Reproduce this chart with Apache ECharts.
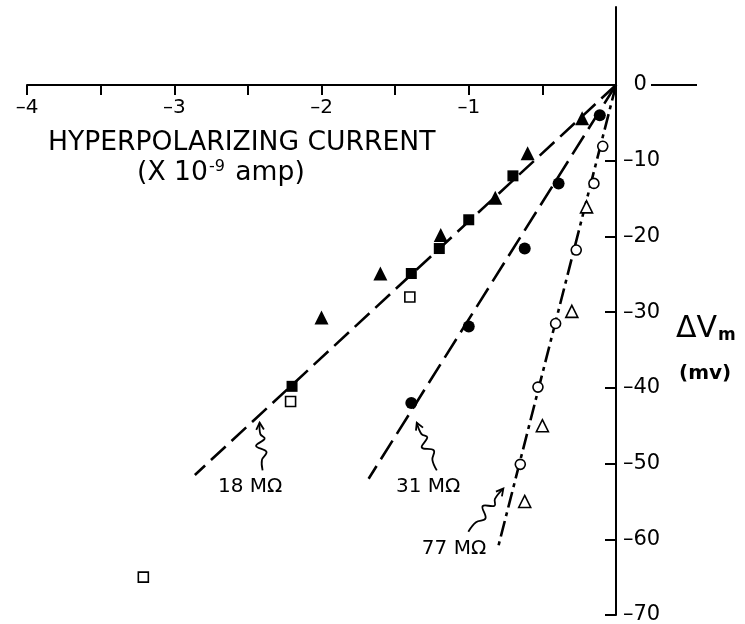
<!DOCTYPE html>
<html>
<head>
<meta charset="utf-8">
<script src="https://cdn.jsdelivr.net/npm/echarts@6/dist/echarts.min.js"></script>
<style>html,body{margin:0;background:#fff}#main{width:745px;height:624px}</style>
</head>
<body>
<div id="main"></div>
<script>
// axis ticks
var xTicks = [-4, -3.5, -3, -2.5, -2, -1.5, -1, -0.5, 0];
var xLabels = [-4, -3, -2, -1];
var yTicks = [-70, -60, -50, -40, -30, -20, -10, 0];

// measured points: [current (x10^-9 amp), dVm (mV)]
var filledTriangles = [[-0.23, -4.4], [-0.6, -9], [-0.82, -14.9], [-1.19, -19.8], [-1.6, -24.9], [-2.0, -30.7]];
var filledSquares = [[-0.7, -12], [-1.0, -17.8], [-1.2, -21.6], [-1.39, -24.9], [-2.2, -39.8]];
var openSquares = [[-1.4, -28], [-2.21, -41.8], [-3.21, -65]];
var filledCircles = [[-0.11, -4], [-0.39, -13], [-0.62, -21.6], [-1.0, -31.9], [-1.39, -42]];
var openCircles = [[-0.09, -8.1], [-0.15, -13], [-0.27, -21.8], [-0.41, -31.5], [-0.53, -39.9], [-0.65, -50.1]];
var openTriangles = [[-0.2, -16.1], [-0.3, -29.9], [-0.5, -45], [-0.62, -55]];

// fitted lines
var fit18 = [[0, 0], [-2.86, -51.5]];
var fit31 = [[0, 0], [-1.68, -52]];
var fit77 = [[0, 0], [-0.8, -61]];

// resistance notes: label position, arrow tail, arrow tip
var noteText = ['18 MΩ', '31 MΩ', '77 MΩ'];
var noteAt = [[-2.485, -53.1], [-1.276, -53.1], [-1.10, -61.2]];
var noteTail = [[-2.40, -50.9], [-1.217, -50.9], [-1.003, -59.0]];
var noteTip = [[-2.42, -44.6], [-1.353, -44.6], [-0.765, -53.3]];

var FONT = 'DejaVu Sans';

var chart = echarts.init(document.getElementById('main'), null, {renderer: 'canvas'});

function fmt(v) {
  if (v === 0) return '\u2002' + '0';
  return '–' + Math.abs(v);
}

function pts(kind, data, size, open) {
  return {
    type: 'scatter',
    symbol: kind,
    symbolSize: size,
    data: data,
    z: 5,
    itemStyle: open
      ? {color: '#fff', borderColor: '#000', borderWidth: 1.6, opacity: 1}
      : {color: '#000', opacity: 1}
  };
}

function fitLine(data, dash) {
  return {
    type: 'line',
    data: data,
    symbol: 'none',
    z: 3,
    lineStyle: {color: '#000', width: 2.6, type: dash}
  };
}

var option = {
  animation: false,
  backgroundColor: '#fff',
  grid: {left: 27, right: 129, top: 7, bottom: 9, outerBoundsMode: 'none'},
  xAxis: {
    type: 'value',
    min: -4,
    max: 0,
    interval: 0.5,
    axisLine: {onZero: false, lineStyle: {color: '#000', width: 2}},
    axisTick: {customValues: xTicks, length: 10, lineStyle: {color: '#000', width: 2}},
    axisLabel: {
      customValues: xLabels,
      formatter: fmt,
      margin: 13,
      color: '#000',
      fontSize: 20,
      fontFamily: FONT
    },
    splitLine: {show: false}
  },
  yAxis: {
    type: 'value',
    position: 'right',
    min: -70,
    max: 10.3,
    interval: 10,
    axisLine: {onZero: false, lineStyle: {color: '#000', width: 2}},
    axisTick: {customValues: yTicks, inside: true, length: 11, lineStyle: {color: '#000', width: 2}},
    axisLabel: {
      customValues: yTicks,
      formatter: fmt,
      margin: 7,
      color: '#000',
      fontSize: 21,
      fontFamily: FONT
    },
    splitLine: {show: false}
  },
  series: [
    fitLine(fit18, [20, 8]),
    fitLine(fit31, [22, 8]),
    fitLine(fit77, [16, 5, 4, 5]),
    pts('triangle', filledTriangles, 14, false),
    pts('rect', filledSquares, 11, false),
    pts('rect', openSquares, 10, true),
    pts('circle', filledCircles, 12, false),
    pts('circle', openCircles, 10, true),
    pts('triangle', openTriangles, 12, true)
  ]
};

chart.setOption(option);

// move the x axis up to the zero line of the y axis
var zeroY = chart.convertToPixel({yAxisIndex: 0}, 0);
var bottomY = chart.convertToPixel({yAxisIndex: 0}, -70);
chart.setOption({xAxis: {offset: zeroY - bottomY}});

// annotations placed with the chart's own scales
function px(p) { return chart.convertToPixel({gridIndex: 0}, p); }

function squiggle(t, p) {
  var dx = p[0] - t[0], dy = p[1] - t[1];
  var len = Math.sqrt(dx * dx + dy * dy);
  var nx = -dy / len, ny = dx / len;
  var steps = [[0, 0], [0.22, 0], [0.38, 5], [0.52, -5], [0.66, 4], [0.76, 0], [1, 0]];
  return steps.map(function (s) {
    return [t[0] + dx * s[0] + nx * s[1], t[1] + dy * s[0] + ny * s[1]];
  });
}

function barbs(t, p) {
  var a = Math.atan2(p[1] - t[1], p[0] - t[0]);
  var L = 8, w = 0.5;
  return [
    [p[0] - L * Math.cos(a - w), p[1] - L * Math.sin(a - w)],
    p,
    [p[0] - L * Math.cos(a + w), p[1] - L * Math.sin(a + w)]
  ];
}

var graphic = [];
var o = px([0, 0]);

// x axis continues right of the "0" label
graphic.push({
  type: 'line',
  shape: {x1: o[0] + 35, y1: o[1], x2: o[0] + 81, y2: o[1]},
  style: {stroke: '#000', lineWidth: 2}
});

noteText.forEach(function (txt, i) {
  var a = px(noteAt[i]), t = px(noteTail[i]), p = px(noteTip[i]);
  graphic.push({
    type: 'text', x: a[0], y: a[1],
    style: {text: txt, fill: '#000', fontSize: 20, fontFamily: FONT, align: 'center', verticalAlign: 'middle'}
  });
  graphic.push({
    type: 'polyline',
    shape: {points: squiggle(t, p), smooth: 0.4},
    style: {stroke: '#000', lineWidth: 1.8, fill: null}
  });
  graphic.push({
    type: 'polyline',
    shape: {points: barbs(t, p)},
    style: {stroke: '#000', lineWidth: 1.8, fill: null}
  });
});

// axis titles
graphic.push({
  type: 'text', left: 48, top: 130,
  style: {text: 'HYPERPOLARIZING CURRENT', fill: '#000', fontSize: 26.6, fontFamily: FONT}
});
graphic.push({
  type: 'text', left: 137, top: 159,
  style: {
    text: '{a|(X 10}{s|-9}{a| amp)}',
    fill: '#000',
    rich: {
      a: {fontSize: 26.6, fontFamily: FONT, color: '#000'},
      s: {fontSize: 16, fontFamily: FONT, color: '#000', verticalAlign: 'top', padding: [0, 2, 12, 1]}
    }
  }
});
graphic.push({
  type: 'text', left: 676, top: 314,
  style: {
    text: '{a|ΔV}{m|m}',
    fill: '#000',
    rich: {
      a: {fontSize: 30, fontFamily: FONT, color: '#000'},
      m: {fontSize: 17, fontFamily: FONT, fontWeight: 'bold', color: '#000', verticalAlign: 'bottom', padding: [12, 0, 0, 1]}
    }
  }
});
graphic.push({
  type: 'text', left: 679, top: 364,
  style: {text: '(mv)', fill: '#000', fontSize: 20, fontWeight: 'bold', fontFamily: FONT}
});

chart.setOption({graphic: graphic});
</script>
</body>
</html>
